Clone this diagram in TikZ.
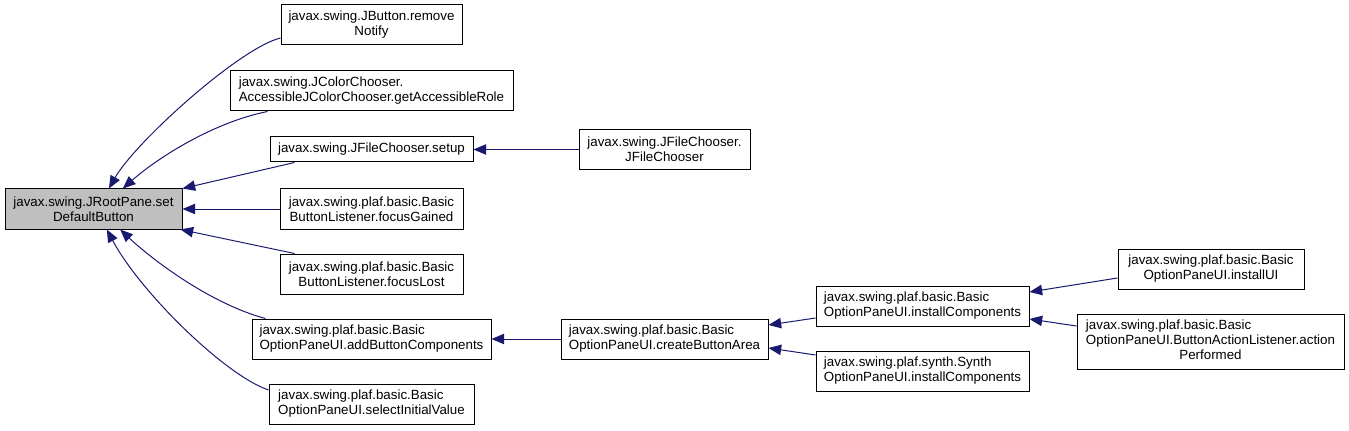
\documentclass[tikz,border=0pt]{standalone}
\usepackage{fontspec}
\setmainfont{Liberation Sans}
\usepackage{xcolor}
\usepackage{tikz}
\usetikzlibrary{arrows.meta}
\definecolor{cedge}{HTML}{191970}
\definecolor{cfocus}{HTML}{BFBFBF}

\begin{document}
\begin{tikzpicture}[x=0.75pt,y=-0.75pt,>={Triangle[length=9.5pt,width=7.8pt]},
  fn/.style={draw,line width=0.75pt,inner sep=0pt,minimum height=30pt,font=\fontsize{10}{11.25}\selectfont},
  call/.style={->,cedge,line width=0.75pt}]
  \useasboundingbox (0,0) rectangle (1349,431);
  % the function itself
  \node[fn,fill=cfocus,minimum width=132.75pt,align=center] (root) at (93.5,209) {javax.swing.JRootPane.set\\DefaultButton};
  % direct callers
  \node[fn,minimum width=135.75pt,align=center] (remove) at (371.5,25) {javax.swing.JButton.remove\\Notify};
  \node[fn,minimum width=212.25pt,align=left] (colorrole) at (371.5,91) {javax.swing.JColorChooser.\\AccessibleJColorChooser.getAccessibleRole};
  \node[fn,minimum width=152.25pt,minimum height=18.75pt] (setup) at (371.5,149.5) {javax.swing.JFileChooser.setup};
  \node[fn,minimum width=137.25pt,align=center] (gained) at (371.5,209) {javax.swing.plaf.basic.Basic\\ButtonListener.focusGained};
  \node[fn,minimum width=137.25pt,align=center] (lost) at (371.5,274) {javax.swing.plaf.basic.Basic\\ButtonListener.focusLost};
  \node[fn,minimum width=179.25pt,align=left] (addbtn) at (371.5,339) {javax.swing.plaf.basic.Basic\\OptionPaneUI.addButtonComponents};
  \node[fn,minimum width=153.75pt,align=left] (initval) at (371.5,404) {javax.swing.plaf.basic.Basic\\OptionPaneUI.selectInitialValue};
  % further callers
  \node[fn,minimum width=128.25pt,align=center] (ctor) at (664.5,149.5) {javax.swing.JFileChooser.\\JFileChooser};
  \node[fn,minimum width=155.25pt,align=left] (area) at (664.5,339) {javax.swing.plaf.basic.Basic\\OptionPaneUI.createButtonArea};
  \node[fn,minimum width=159.75pt,align=left] (instcomp) at (922.5,306) {javax.swing.plaf.basic.Basic\\OptionPaneUI.installComponents};
  \node[fn,minimum width=159.75pt,align=left] (synth) at (922.5,371) {javax.swing.plaf.synth.Synth\\OptionPaneUI.installComponents};
  \node[fn,minimum width=139.5pt,align=center] (instui) at (1211,269) {javax.swing.plaf.basic.Basic\\OptionPaneUI.installUI};
  \node[fn,minimum width=200.25pt,minimum height=41.25pt] (action) at (1210.5,341.5)
    {\begin{tabular}{@{}l@{}}javax.swing.plaf.basic.Basic\\OptionPaneUI.ButtonActionListener.action\\\multicolumn{1}{@{}c@{}}{Performed}\end{tabular}};

  \draw[call] ([yshift=-9.75pt]remove.west) .. controls +(-41,10) and +(26,-46) .. ([xshift=11.6pt]root.north);
  \draw[call] ([xshift=28.5pt]colorrole.south west) .. controls +(-55,11) and +(34,-30) .. ([xshift=22pt]root.north);
  \draw[call] ([xshift=18.75pt]setup.south west) -- (root.north east);
  \draw[call] (gained.west) -- (root.east);
  \draw[call] ([xshift=11.25pt]lost.north west) -- ([xshift=-1.5pt]root.south east);
  \draw[call] ([xshift=10.5pt]addbtn.north west) .. controls +(-53,-14) and +(34,32) .. ([xshift=20pt]root.south);
  \draw[call] ([yshift=10.5pt]initval.west) .. controls +(-44,-15) and +(33,62) .. ([xshift=10pt]root.south);
  \draw[call] (ctor.west) -- (setup.east);
  \draw[call] (area.west) -- (addbtn.east);
  \draw[call] ([yshift=-9pt]instcomp.west) -- ([yshift=10.5pt]area.east);
  \draw[call] ([yshift=12pt]synth.west) -- ([yshift=-6.75pt]area.east);
  \draw[call] ([yshift=-6.75pt]instui.west) -- ([yshift=10.5pt]instcomp.east);
  \draw[call] ([yshift=11.6pt]action.west) -- ([yshift=-9.75pt]instcomp.east);
\end{tikzpicture}
\end{document}
